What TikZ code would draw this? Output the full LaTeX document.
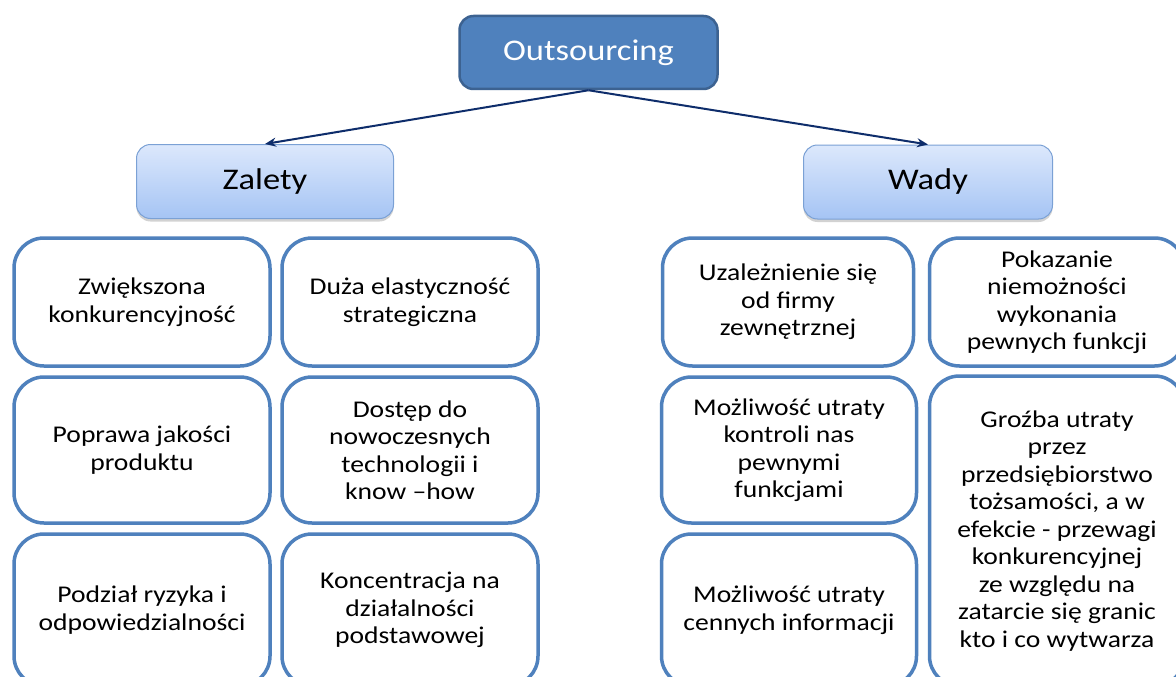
\documentclass[tikz,border=0pt]{standalone}
\usepackage{fontspec}
\setmainfont{Carlito}[FakeStretch=1.15]
\usetikzlibrary{shadows,arrows.meta}
\definecolor{boxblue}{HTML}{4F81BD}
\definecolor{topdark}{HTML}{3C6291}
\definecolor{headtop}{HTML}{DCE8FC}
\definecolor{headbot}{HTML}{A5C4F4}
\definecolor{headline}{HTML}{7BA1D5}
\definecolor{arrowcol}{HTML}{0E2D6B}
\tikzset{
  topbox/.style={draw=topdark, line width=2.5pt, fill=boxblue, rounded corners=14pt,
    minimum width=258pt, minimum height=73pt, inner sep=0pt, text=white,
    font=\fontsize{30}{34}\selectfont},
  headbox/.style={draw=headline, line width=1pt, top color=headtop, bottom color=headbot,
    rounded corners=14pt, minimum height=74pt, inner sep=0pt,
    drop shadow={shadow xshift=0pt, shadow yshift=-3pt, opacity=0.35, fill=gray},
    font=\fontsize{30}{34}\selectfont},
  itembox/.style={draw=boxblue, line width=3.5pt, fill=white, rounded corners=30pt,
    inner sep=0pt, align=center, font=\fontsize{24}{27.5}\selectfont},
  conn/.style={draw=arrowcol, line width=2pt, -{Stealth[length=11pt,width=9pt]}}
}
\begin{document}
\begin{tikzpicture}[x=1pt,y=-1pt]
\useasboundingbox (0,0) rectangle (1176,677);
\fill[white] (0,0) rectangle (1176,677);
\clip (0,0) rectangle (1176,677);

\node[topbox] (out) at (588.5,52.5) {Outsourcing};
\node[headbox, minimum width=257pt] (zal) at (265,181.5) {Zalety};
\node[headbox, minimum width=249pt] (wad) at (928,182) {Wady};

\draw[conn] (out.south) -- (zal.north);
\draw[conn] (out.south) -- (wad.north);

% Zalety
\node[itembox, minimum width=256pt, minimum height=128pt] (a1) at (142,302) {Zwiększona\\konkurencyjność};
\node[itembox, minimum width=256pt, minimum height=128pt] (a2) at (410,302) {Duża elastyczność\\strategiczna};
\node[itembox, minimum width=256pt, minimum height=146pt] (a3) at (142,450) {Poprawa jakości\\produktu};
\node[itembox, minimum width=256pt, minimum height=146pt] (a4) at (410,450) {Dostęp do\\nowoczesnych\\technologii i\\know –how};
\node[itembox, minimum width=256pt, minimum height=152pt] (a5) at (142,610) {Podział ryzyka i\\odpowiedzialności};
\node[itembox, minimum width=256pt, minimum height=152pt] (a6) at (410,610) {Koncentracja na\\działalności\\podstawowej};

% Wady
\node[itembox, minimum width=251pt, minimum height=128pt] (b1) at (788,302) {Uzależnienie się\\od firmy\\zewnętrznej};
\node[itembox, minimum width=255pt, minimum height=128pt] (b2) at (1057,302) {Pokazanie\\niemożności\\wykonania\\pewnych funkcji};
\node[itembox, minimum width=255pt, minimum height=146pt] (b3) at (789,450) {Możliwość utraty\\kontroli nas\\pewnymi\\funkcjami};
\node[itembox, minimum width=255pt, minimum height=152pt] (b5) at (789,610) {Możliwość utraty\\cennych informacji};
\node[itembox, minimum width=255pt, minimum height=310pt] (b4) at (1057,531) {Groźba utraty\\przez\\przedsiębiorstwo\\tożsamości, a w\\efekcie - przewagi\\konkurencyjnej\\ze względu na\\zatarcie się granic\\kto i co wytwarza};
\end{tikzpicture}
\end{document}
